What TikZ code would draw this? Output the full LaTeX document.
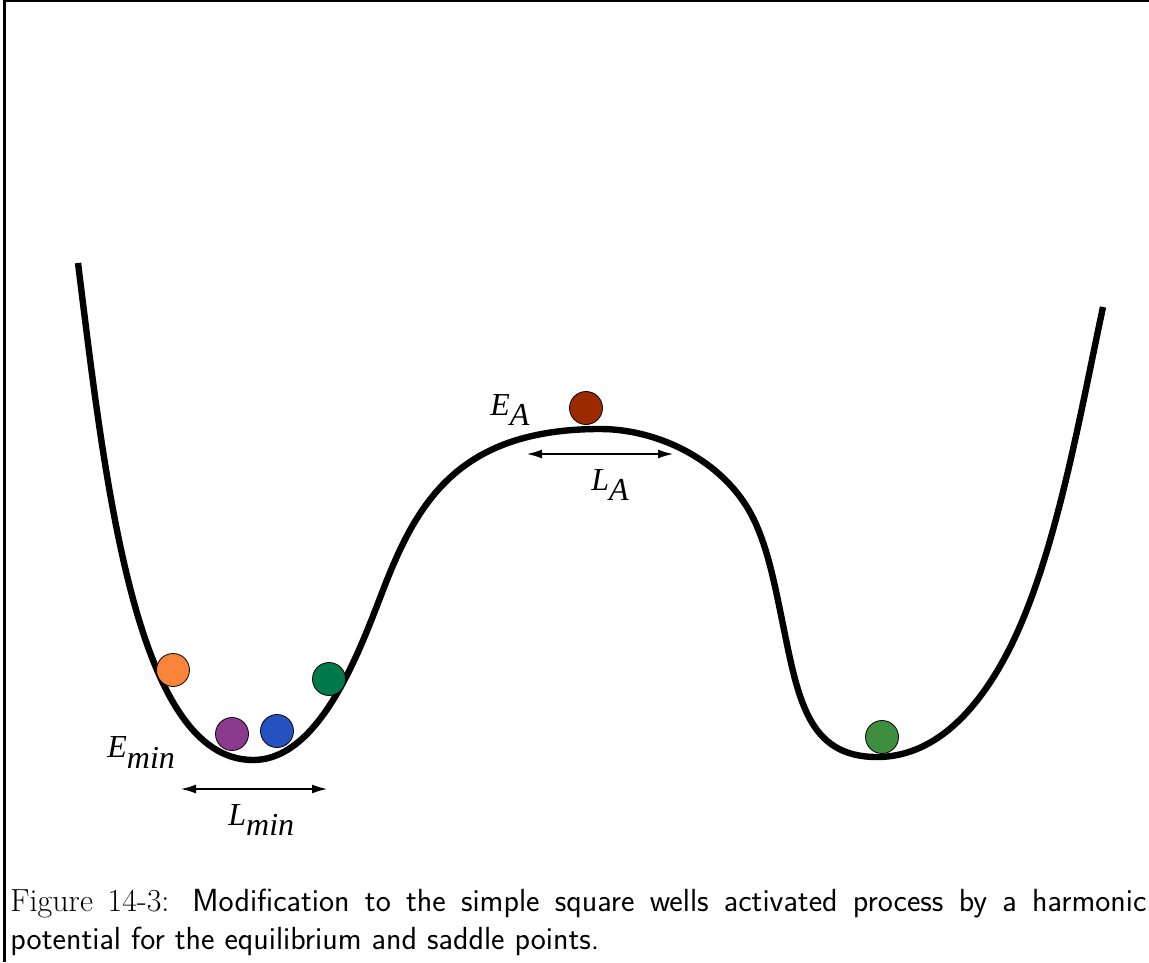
\documentclass[tikz,border=0pt]{standalone}
\usepackage{fontspec}
\newfontfamily\timesf{Liberation Serif}
\usetikzlibrary{arrows.meta}
\definecolor{ballorange}{RGB}{248,133,58}
\definecolor{ballpurple}{RGB}{139,58,142}
\definecolor{ballblue}{RGB}{36,83,193}
\definecolor{balldkgreen}{RGB}{0,122,75}
\definecolor{ballred}{RGB}{155,42,0}
\definecolor{ballgreen}{RGB}{62,142,64}
\tikzset{
  ball/.style={circle, draw=black, line width=0.4pt, minimum size=16.5pt, inner sep=0pt},
  potential/.style={line width=3.2pt, line join=round},
  spanarrow/.style={line width=0.65pt, {Latex[length=7.5pt,width=4.5pt]}-{Latex[length=7.5pt,width=4.5pt]}},
  lbl/.style={anchor=base west, inner sep=0pt, font=\timesf\itshape\fontsize{16pt}{19pt}\selectfont},
  captext/.style={anchor=base west, inner sep=0pt, font=\fontsize{16pt}{20pt}\selectfont},
}
\begin{document}
\begin{tikzpicture}[x=0.5pt,y=-0.5pt]
\useasboundingbox (0,0) rectangle (1149,962);
\draw[line width=1.25pt] (4.5,962) -- (4.5,1.2) -- (1149,1.2);
\draw[potential] (78,263)
  .. controls (105,480) and (135,760) .. (253,760)
  .. controls (323,760) and (363,641) .. (385,585)
  .. controls (418,501) and (460,429) .. (600,429)
  .. controls (655,429) and (716,457) .. (747,507)
  .. controls (766,538) and (774,581) .. (782,620)
  .. controls (798,698) and (807,757) .. (877,757)
  .. controls (947,757) and (992,688) .. (1017,633)
  .. controls (1058,542) and (1080,415) .. (1103,307);
\node[ball, fill=ballorange] (orange) at (173,670) {};
\node[ball, fill=ballpurple] (purple) at (232,734) {};
\node[ball, fill=ballblue] (blue) at (277,731) {};
\node[ball, fill=balldkgreen] (dkgreen) at (329,679) {};
\node[ball, fill=ballred] (red) at (586,408) {};
\node[ball, fill=ballgreen] (green) at (882,737) {};
\coordinate (lminL) at (181,789);
\coordinate (lminR) at (327,789);
\draw[spanarrow] (lminL) -- (lminR);
\coordinate (laL) at (527,454);
\coordinate (laR) at (673,454);
\draw[spanarrow] (laL) -- (laR);
\node[lbl] (emin) at (107,757) {E\raisebox{-5.5pt}{min}};
\node[lbl] (lmin) at (228,825) {L\raisebox{-5pt}{min}};
\node[lbl] (ea) at (490,415) {E\raisebox{-5pt}{A}};
\node[lbl] (la) at (591,490) {L\raisebox{-5pt}{A}};
\node[captext] (cap1) at (10,911) {\makebox[568pt][s]{Figure 14-3: \sffamily Modification to the simple square wells activated process by a harmonic}};
\node[captext] (cap2) at (10,949) {\sffamily potential for the equilibrium and saddle points.};
\end{tikzpicture}
\end{document}
